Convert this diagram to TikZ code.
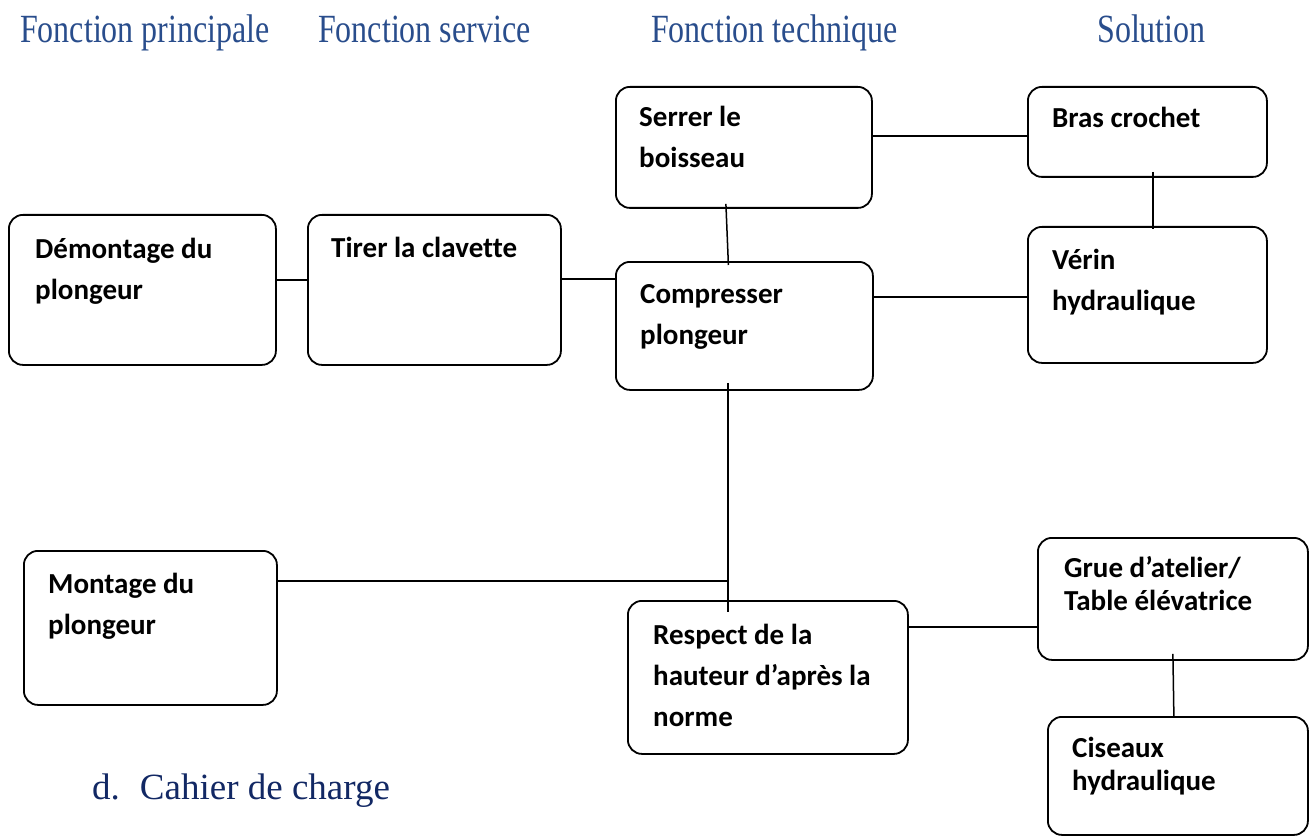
\documentclass[tikz,border=0pt]{standalone}
\usepackage{fontspec}
\usepackage{graphicx}
\setmainfont{Carlito}[Ligatures=CommonOff]
\newfontfamily\hdrfont{Liberation Serif}
\definecolor{hdrblue}{RGB}{41,77,140}
\definecolor{navyblue}{RGB}{18,40,100}
\begin{document}
\begin{tikzpicture}[x=1pt,y=-1pt,
  box/.style={draw, line width=1.8pt, rounded corners=14pt, inner sep=0pt, anchor=north west},
  txt/.style={anchor=base west, inner sep=0pt, align=left, font=\bfseries\fontsize{29}{41}\selectfont},
  txtb/.style={txt, font=\bfseries\fontsize{29}{33}\selectfont},
  hdr/.style={anchor=base west, inner sep=0pt, text=hdrblue, font=\hdrfont\fontsize{40}{44}\selectfont},
  link/.style={line width=1.5pt}]
\useasboundingbox (0,0) rectangle (1312,837);

% headers
\node[hdr] (h1) at (20,43) {\scalebox{0.8}[1]{Fonction principale}};
\node[hdr] (h2) at (318,43) {\scalebox{0.8}[1]{Fonction service}};
\node[hdr] (h3) at (651,43) {\scalebox{0.8}[1]{Fonction technique}};
\node[hdr] (h4) at (1097,43) {\scalebox{0.8}[1]{Solution}};

% boxes
\node[box, minimum width=267pt, minimum height=150pt] (dem) at (8,214) {};
\node[box, minimum width=253pt, minimum height=150pt] (tirer) at (307,214) {};
\node[box, minimum width=256pt, minimum height=121pt] (serrer) at (615,86) {};
\node[box, minimum width=239pt, minimum height=90pt] (bras) at (1027,86) {};
\node[box, minimum width=257pt, minimum height=128pt] (comp) at (615,261) {};
\node[box, minimum width=239pt, minimum height=136pt] (verin) at (1027,226) {};
\node[box, minimum width=253pt, minimum height=154pt] (mont) at (23,550) {};
\node[box, minimum width=280pt, minimum height=153pt] (resp) at (627,600) {};
\node[box, minimum width=270pt, minimum height=122pt] (grue) at (1037,537) {};
\node[box, minimum width=260pt, minimum height=118pt] (cis) at (1047,716) {};

% texts (anchored at the baseline of the last line)
\node[txt] (demt) at (35,299) {Démontage du\\plongeur};
\node[txt] (tirert) at (331,258) {Tirer la clavette};
\node[txt] (serrert) at (639,168) {Serrer le\\boisseau};
\node[txt] (brast) at (1052,128) {Bras crochet};
\node[txt] (compt) at (640,344) {Compresser\\plongeur};
\node[txt] (verint) at (1052,310) {Vérin\\hydraulique};
\node[txt] (montt) at (48,634) {Montage du\\plongeur};
\node[txt] (respt) at (653,726) {Respect de la\\hauteur d’après la\\norme};
\node[txtb] (gruet) at (1064,610) {Grue d’atelier/\\Table élévatrice};
\node[txtb] (cist) at (1072,790) {Ciseaux\\hydraulique};

% connectors
\draw[link] ([yshift=10pt]dem.east) -- ([yshift=10pt]tirer.west);
\draw[link] ([yshift=11pt]tirer.east) coordinate (t1) -- (t1 -| comp.west);
\draw[link] ([yshift=11.5pt]serrer.east) coordinate (s1) -- (s1 -| bras.west);
\draw[link] ([yshift=29pt]comp.east) coordinate (c1) -- (c1 -| verin.west);
\draw[link] ([xshift=-18pt,yshift=5pt]serrer.south) -- ([xshift=-16pt,yshift=-4pt]comp.north);
\draw[link] ([xshift=5.5pt,yshift=6pt]bras.south) -- ([xshift=5.5pt,yshift=-3pt]verin.north);
\draw[link] ([xshift=-16.5pt,yshift=8pt]comp.south) coordinate (c2) -- ([xshift=-40pt,yshift=-12pt]resp.north);
\draw[link] ([yshift=47pt]mont.east) coordinate (m1) -- (m1 -| c2);
\draw[link] ([yshift=50.5pt]resp.east) coordinate (r1) -- (r1 -| grue.west);
\draw[link] ([yshift=7pt]grue.south) -- ([xshift=-4pt,yshift=-1pt]cis.north);

% section title
\node[anchor=base west, inner sep=0pt, text=navyblue, font=\hdrfont\fontsize{37}{40}\selectfont] (cahier) at (92,799) {d.\hspace{20pt}Cahier de charge};
\end{tikzpicture}
\end{document}
